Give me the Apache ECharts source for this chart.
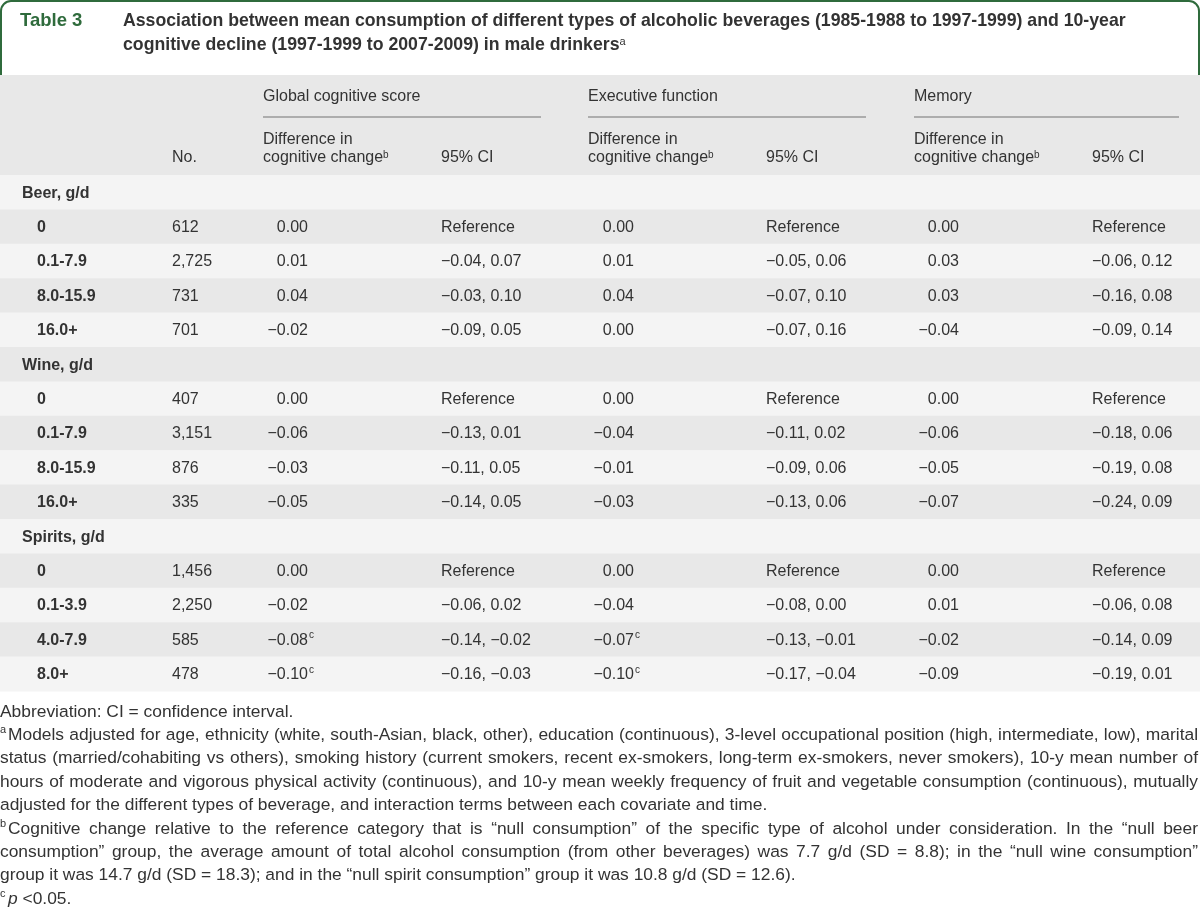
<!DOCTYPE html>
<html><head><meta charset="utf-8">
<script src="https://cdn.jsdelivr.net/npm/echarts@6/dist/echarts.min.js"></script>
<style>html,body{margin:0;padding:0;background:#fff}#c{width:1200px;height:910px}</style>
</head><body><div id="c"></div>
<script>
// ---------------- DATA ----------------
const groupLabels = ['Beer, g/d', 'Wine, g/d', 'Spirits, g/d'];
const levelLabels = [
  ['0', '0.1-7.9', '8.0-15.9', '16.0+'],
  ['0', '0.1-7.9', '8.0-15.9', '16.0+'],
  ['0', '0.1-3.9', '4.0-7.9', '8.0+']
];
const counts = [
  [612, 2725, 731, 701],
  [407, 3151, 876, 335],
  [1456, 2250, 585, 478]
];
// Global cognitive score
const globalDiff = [[0.00, 0.01, 0.04, -0.02], [0.00, -0.06, -0.03, -0.05], [0.00, -0.02, -0.08, -0.10]];
const globalLow  = [[null, -0.04, -0.03, -0.09], [null, -0.13, -0.11, -0.14], [null, -0.06, -0.14, -0.16]];
const globalHigh = [[null, 0.07, 0.10, 0.05], [null, 0.01, 0.05, 0.05], [null, 0.02, -0.02, -0.03]];
const globalSig  = [[0, 0, 0, 0], [0, 0, 0, 0], [0, 0, 1, 1]];
// Executive function
const execDiff = [[0.00, 0.01, 0.04, 0.00], [0.00, -0.04, -0.01, -0.03], [0.00, -0.04, -0.07, -0.10]];
const execLow  = [[null, -0.05, -0.07, -0.07], [null, -0.11, -0.09, -0.13], [null, -0.08, -0.13, -0.17]];
const execHigh = [[null, 0.06, 0.10, 0.16], [null, 0.02, 0.06, 0.06], [null, 0.00, -0.01, -0.04]];
const execSig  = [[0, 0, 0, 0], [0, 0, 0, 0], [0, 0, 1, 1]];
// Memory
const memDiff = [[0.00, 0.03, 0.03, -0.04], [0.00, -0.06, -0.05, -0.07], [0.00, 0.01, -0.02, -0.09]];
const memLow  = [[null, -0.06, -0.16, -0.09], [null, -0.18, -0.19, -0.24], [null, -0.06, -0.14, -0.19]];
const memHigh = [[null, 0.12, 0.08, 0.14], [null, 0.06, 0.08, 0.09], [null, 0.08, 0.09, 0.01]];
const memSig  = [[0, 0, 0, 0], [0, 0, 0, 0], [0, 0, 0, 0]];

const outcomeLabels = ['Global cognitive score', 'Executive function', 'Memory'];
const diffHeader = ['Difference in', 'cognitive change'];
const ciHeader = '95% CI';
const noHeader = 'No.';
const referenceLabel = 'Reference';

const tableLabel = 'Table 3';
const titleLines = [
  'Association between mean consumption of different types of alcoholic beverages (1985-1988 to 1997-1999) and 10-year',
  'cognitive decline (1997-1999 to 2007-2009) in male drinkers'
];
const footAbbrev = 'Abbreviation: CI = confidence interval.';
const footA = [
  'Models adjusted for age, ethnicity (white, south-Asian, black, other), education (continuous), 3-level occupational position (high, intermediate, low), marital',
  'status (married/cohabiting vs others), smoking history (current smokers, recent ex-smokers, long-term ex-smokers, never smokers), 10-y mean number of',
  'hours of moderate and vigorous physical activity (continuous), and 10-y mean weekly frequency of fruit and vegetable consumption (continuous), mutually',
  'adjusted for the different types of beverage, and interaction terms between each covariate and time.'
];
const footB = [
  'Cognitive change relative to the reference category that is \u201cnull consumption\u201d of the specific type of alcohol under consideration. In the \u201cnull beer',
  'consumption\u201d group, the average amount of total alcohol consumption (from other beverages) was 7.7 g/d (SD = 8.8); in the \u201cnull wine consumption\u201d',
  'group it was 14.7 g/d (SD = 18.3); and in the \u201cnull spirit consumption\u201d group it was 10.8 g/d (SD = 12.6).'
];
const footC = ' <0.05.';

// ---------------- LAYOUT / STYLE ----------------
const FF = '"Liberation Sans", Arial, sans-serif';
const TXT = '#333333';
const GREEN = '#2f6b3c';
const ROW_DARK = '#e8e8e8';
const ROW_LIGHT = '#f4f4f4';
const colX = { group: 22, level: 37, no: 172, diff: [308, 634, 959], ci: [441, 766, 1092], head: [263, 588, 914], lineEnd: [541, 866, 1179] };
const BODY_FS = 16;
const TITLE_FS = 17.7;
const FOOT_FS = 17.4;

const outcomes = [
  { diff: globalDiff, low: globalLow, high: globalHigh, sig: globalSig },
  { diff: execDiff, low: execLow, high: execHigh, sig: execSig },
  { diff: memDiff, low: memLow, high: memHigh, sig: memSig }
];

// build rows
const rows = [];
groupLabels.forEach((g, gi) => {
  rows.push({ kind: 'group', label: g });
  levelLabels[gi].forEach((lv, li) => rows.push({ kind: 'level', label: lv, g: gi, i: li }));
});

function fmt(v) { return (v < 0 ? '\u2212' : '') + Math.abs(v).toFixed(2); }
function fmtN(n) { return n.toLocaleString('en-US'); }

function renderRow(params, api) {
  const k = api.value(1);
  const r = rows[k];
  const cy = api.coord([0, k])[1];
  const h = api.size([0, 1])[1];
  const X = v => api.coord([v, k])[0];
  const ty = cy + 1;
  const children = [{
    type: 'rect',
    shape: { x: X(0), y: cy - h / 2, width: X(1200) - X(0), height: h + 0.5 },
    style: { fill: k % 2 ? ROW_DARK : ROW_LIGHT }
  }];
  const txt = (s, x, opts) => ({
    type: 'text',
    style: Object.assign({ text: s, x: x, y: ty, fill: TXT, fontSize: BODY_FS, fontFamily: FF, align: 'left', verticalAlign: 'middle' }, opts || {})
  });
  if (r.kind === 'group') {
    children.push(txt(r.label, X(colX.group), { fontWeight: 'bold' }));
  } else {
    children.push(txt(r.label, X(colX.level), { fontWeight: 'bold' }));
    children.push(txt(fmtN(counts[r.g][r.i]), X(colX.no)));
    outcomes.forEach((o, oi) => {
      children.push(txt(fmt(o.diff[r.g][r.i]), X(colX.diff[oi]), { align: 'right' }));
      if (o.sig[r.g][r.i]) {
        children.push(txt('c', X(colX.diff[oi]) + 1, { fontSize: 10, y: ty - 5 }));
      }
      const lo = o.low[r.g][r.i], hi = o.high[r.g][r.i];
      children.push(txt(lo == null ? referenceLabel : fmt(lo) + ', ' + fmt(hi), X(colX.ci[oi])));
    });
  }
  return { type: 'group', children };
}

// ---------------- graphics (title, header, footnotes) ----------------
const graphics = [];
graphics.push({ type: 'rect', shape: { x: 1, y: 1, width: 1198, height: 90, r: [10, 10, 0, 0] }, style: { fill: '#fff', stroke: GREEN, lineWidth: 2 }, z: 1 });
graphics.push({ type: 'rect', shape: { x: 0, y: 75, width: 1200, height: 101 }, style: { fill: ROW_DARK }, z: 2 });
graphics.push({ type: 'text', x: 20, y: 21, style: { text: tableLabel, fill: GREEN, fontSize: 18.5, fontWeight: 'bold', fontFamily: FF, verticalAlign: 'middle' }, z: 3 });
titleLines.forEach((t, i) => {
  const last = i === titleLines.length - 1;
  graphics.push({ type: 'text', x: 123, y: 21 + i * 24, z: 3, style: {
    text: last ? t + '{s|a}' : t, fill: TXT, fontSize: TITLE_FS, fontWeight: 'bold', fontFamily: FF, verticalAlign: 'middle',
    rich: { s: { fontSize: 11, fontFamily: FF, fill: TXT, verticalAlign: 'top', lineHeight: 11 } }
  } });
});
outcomeLabels.forEach((lab, oi) => {
  graphics.push({ type: 'text', x: colX.head[oi], y: 97, z: 3, style: { text: lab, fill: TXT, fontSize: BODY_FS, fontFamily: FF, verticalAlign: 'middle' } });
  graphics.push({ type: 'line', z: 3, shape: { x1: colX.head[oi], y1: 117, x2: colX.lineEnd[oi], y2: 117 }, style: { stroke: '#9a9a9a', lineWidth: 1.5 } });
  graphics.push({ type: 'text', x: colX.head[oi], y: 140, z: 3, style: { text: diffHeader[0], fill: TXT, fontSize: BODY_FS, fontFamily: FF, verticalAlign: 'middle' } });
  graphics.push({ type: 'text', x: colX.head[oi], y: 158, z: 3, style: { text: diffHeader[1] + '{s|b}', fill: TXT, fontSize: BODY_FS, fontFamily: FF, verticalAlign: 'middle',
    rich: { s: { fontSize: 10, fontFamily: FF, fill: TXT, verticalAlign: 'top', lineHeight: 10 } } } });
  graphics.push({ type: 'text', x: colX.ci[oi], y: 158, z: 3, style: { text: ciHeader, fill: TXT, fontSize: BODY_FS, fontFamily: FF, verticalAlign: 'middle' } });
});
graphics.push({ type: 'text', x: colX.no, y: 158, z: 3, style: { text: noHeader, fill: TXT, fontSize: BODY_FS, fontFamily: FF, verticalAlign: 'middle' } });

// footnotes
const measureCtx = document.createElement('canvas').getContext('2d');
function measure(s, fs) { measureCtx.font = fs + 'px ' + FF; return measureCtx.measureText(s).width; }
function footText(s, x, y, extra) {
  return { type: 'text', x: x, y: y, z: 3, style: Object.assign({ text: s, fill: TXT, fontSize: FOOT_FS, fontFamily: FF, verticalAlign: 'middle' }, extra || {}) };
}
function footLine(s, x0, y, justify) {
  if (!justify) { graphics.push(footText(s, x0, y)); return; }
  const words = s.split(' ');
  const ws = words.map(w => measure(w, FOOT_FS));
  const total = ws.reduce((a, b) => a + b, 0);
  const gap = (1198 - x0 - total) / (words.length - 1);
  let x = x0;
  words.forEach((w, i) => { graphics.push(footText(w, x, y)); x += ws[i] + gap; });
}
function footSup(ch, y) { graphics.push(footText(ch, 0, y - 5, { fontSize: 11 })); }
const footY0 = 712, footLH = 23.35;
let ln = 0;
footLine(footAbbrev, 0, footY0 + footLH * ln++, false);
footSup('a', footY0 + footLH * ln);
footA.forEach((s, i) => footLine(s, i === 0 ? 8 : 0, footY0 + footLH * ln++, i < footA.length - 1));
footSup('b', footY0 + footLH * ln);
footB.forEach((s, i) => footLine(s, i === 0 ? 8 : 0, footY0 + footLH * ln++, i < footB.length - 1));
footSup('c', footY0 + footLH * ln);
graphics.push(footText('{i|p}' + footC, 8, footY0 + footLH * ln, { rich: { i: { fontStyle: 'italic', fontSize: FOOT_FS, fontFamily: FF, fill: TXT } } }));

// ---------------- chart ----------------
const chart = echarts.init(document.getElementById('c'), null, { renderer: 'canvas' });
chart.setOption({
  animation: false,
  backgroundColor: '#ffffff',
  grid: { left: 0, right: 0, top: 175, height: 516, containLabel: false },
  xAxis: { type: 'value', min: 0, max: 1200, show: false },
  yAxis: { type: 'category', inverse: true, show: false, data: rows.map((_, i) => String(i)) },
  series: [{
    type: 'custom',
    renderItem: renderRow,
    data: rows.map((_, i) => [0, i]),
    encode: { x: 0, y: 1 },
    silent: true
  }],
  graphic: { elements: graphics }
});
</script>
</body></html>
